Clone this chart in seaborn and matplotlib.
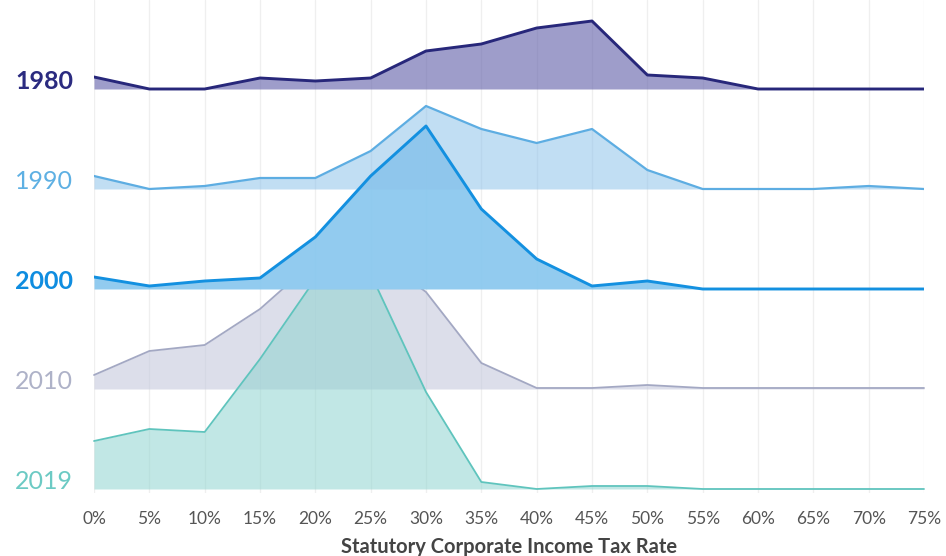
import numpy as np
import pandas as pd
import seaborn as sns
import matplotlib.pyplot as plt
from matplotlib.patches import Rectangle

# tax rate bins (%) and share of countries per bin
rates = list(range(0, 80, 5))
years = ['1980', '1990', '2000', '2010', '2019']
share_1980 = [1.2, 0.0, 0.0, 1.1, 0.8, 1.1, 3.8, 4.5, 6.1, 6.8, 1.4, 1.1, 0.0, 0.0, 0.0, 0.0]
share_1990 = [1.3, 0.0, 0.3, 1.1, 1.1, 3.8, 8.3, 6.0, 4.6, 6.0, 1.9, 0.0, 0.0, 0.0, 0.3, 0.0]
share_2000 = [1.2, 0.3, 0.8, 1.1, 5.2, 11.3, 16.3, 8.0, 3.0, 0.3, 0.8, 0.0, 0.0, 0.0, 0.0, 0.0]
share_2010 = [1.4, 3.8, 4.4, 8.0, 12.9, 13.8, 9.7, 2.6, 0.1, 0.1, 0.4, 0.1, 0.1, 0.1, 0.1, 0.1]
share_2019 = [4.8, 6.0, 5.7, 13.0, 21.0, 21.5, 9.7, 0.7, 0.0, 0.3, 0.3, 0.0, 0.0, 0.0, 0.0, 0.0]
tick_labels = [f'{r}%' for r in rates]

df = pd.DataFrame({'rate': rates * 5,
                   'year': np.repeat(years, len(rates)),
                   'share': share_1980 + share_1990 + share_2000 + share_2010 + share_2019})

line_colors = {'1980': '#27277a', '1990': '#5dade2', '2000': '#1390e0', '2010': '#a3a8c3', '2019': '#5fc4bd'}
fill_colors = {'1980': '#5e5ca8', '1990': '#8ec3ea', '2000': '#86c6ee', '2010': '#c5c9dd', '2019': '#8fd4d0'}
fill_alpha = {'1980': 0.6, '1990': 0.55, '2000': 0.9, '2010': 0.6, '2019': 0.55}
label_colors = {'1980': '#2b2b80', '1990': '#5eb0e3', '2000': '#0f8de0', '2010': '#aeb2c8', '2019': '#6ccac4'}
label_weight = {'1980': 'bold', '1990': 'normal', '2000': 'bold', '2010': 'normal', '2019': 'normal'}
widths = {'1980': 2.1, '1990': 1.6, '2000': 2.1, '2010': 1.3, '2019': 1.3}

# drawing order: lower ridges first, then 2000, 1990 area over it, top lines last
layers = [('2010', 'fill'), ('2010', 'line'), ('2019', 'fill'), ('2019', 'line'),
          ('2000', 'fill'), ('1990', 'fill'), ('1980', 'fill'),
          ('1990', 'line'), ('2000', 'line'), ('1980', 'line')]

sns.set_theme(style='white')
plt.rcParams['font.family'] = ['Lato', 'DejaVu Sans']

fig = plt.figure(figsize=(9.46, 5.56), dpi=100)
ax = fig.add_axes([94 / 946, 1 - 493 / 556, 830 / 946, 493 / 556])

spacing = 10
offsets = {yr: (len(years) - 1 - i) * spacing for i, yr in enumerate(years)}
# the peaks of 2010 / 2019 disappear behind the 2000 area
hide_above = Rectangle((-5, -5), 90, offsets['2000'] + 5, transform=ax.transData)

for z, (yr, kind) in enumerate(layers):
    d = df[df['year'] == yr]
    off = offsets[yr]
    y = d['share'].to_numpy() + off
    if kind == 'fill':
        art = ax.fill_between(d['rate'].to_numpy(), off, y, color=fill_colors[yr],
                              alpha=fill_alpha[yr], linewidth=0, zorder=2 + z * 0.1)
    else:
        sns.lineplot(x=d['rate'].to_numpy(), y=y, ax=ax, color=line_colors[yr],
                     linewidth=widths[yr], errorbar=None, zorder=2 + z * 0.1)
        art = ax.lines[-1]
    if yr in ('2010', '2019'):
        art.set_clip_path(hide_above)

for yr in years:
    ax.text(-1.9, offsets[yr], yr, ha='right', va='baseline', fontsize=18,
            color=label_colors[yr], fontweight=label_weight[yr])

ax.set_xlim(0, 75)
ax.set_ylim(-0.4, 48.9)
ax.set_xticks(rates)
ax.set_xticklabels(tick_labels)
ax.set_yticks([])
ax.tick_params(axis='x', length=0, pad=13, labelsize=12.5, labelcolor='#555555')
ax.grid(axis='x', color='#efefef', linewidth=0.9)
ax.set_axisbelow(True)
for s in ax.spines.values():
    s.set_visible(False)
ax.set_xlabel('Statutory Corporate Income Tax Rate', fontsize=14.5, fontweight='bold',
              color='#444444', labelpad=7)

fig.savefig('out.png', dpi=100)
